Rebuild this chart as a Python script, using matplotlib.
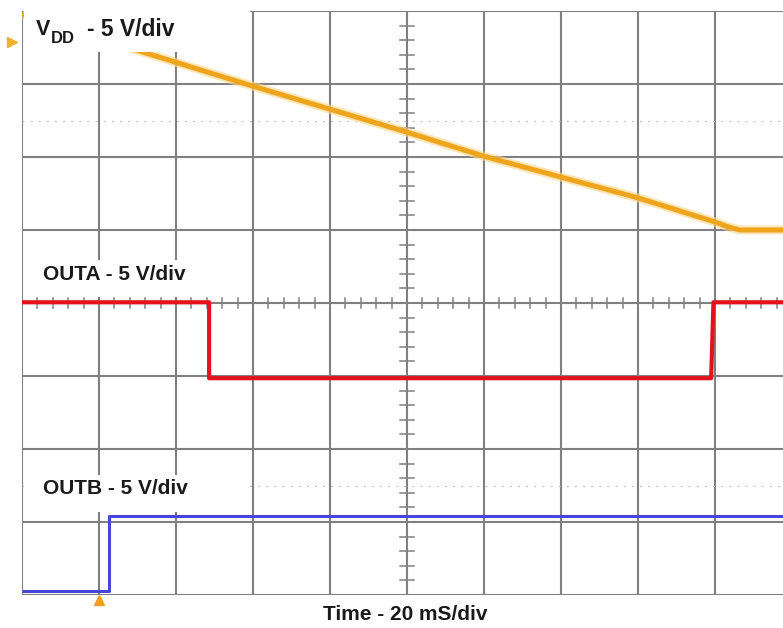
"""Scope capture: VDD ramp-down with OUTA / OUTB response (graticule in divisions)."""
import numpy as np
import matplotlib
matplotlib.use("Agg")
import matplotlib.pyplot as plt

plt.rcParams["font.family"] = ["Liberation Sans", "DejaVu Sans"]

# traces, read in screen divisions (x: 0..10, y: 0..8 from bottom)
vdd_t = [0.0, 3.0, 5.0, 6.0, 8.0, 9.0, 9.15, 9.32, 9.9]
vdd_v = [7.95, 6.97, 6.34, 6.01, 5.44, 5.11, 5.05, 5.0, 5.0]
outa_t = [0.0, 2.43, 2.43, 8.95, 8.98, 9.9]
outa_v = [4.01, 4.01, 2.97, 2.97, 4.01, 4.01]
outb_t = [0.0, 1.13, 1.13, 9.9]
outb_v = [0.05, 0.05, 1.08, 1.08]

labels = ["OUTA - 5 V/div", "OUTB - 5 V/div"]
label_box = [(7.44, 0.56), (4.08, 0.51), (1.14, 0.51)]   # (bottom, height) in div
label_y = [4.39, 1.46]           # text centres (div)
xlabel = "Time - 20 mS/div"

W, H = 783, 628
fig = plt.figure(figsize=(W / 100, H / 100), dpi=100)
x0, y_top, y_bot, dx = 22, 11, 595, 77.0
ax = fig.add_axes([x0 / W, (H - y_bot) / H, (W - x0) / W, (y_bot - y_top) / H])
xmax = (W - x0) / dx
ax.set_xlim(0, xmax); ax.set_ylim(0, 8)
ax.axis("off")

grid_c = "#808080"
for i in range(11):
    ax.axvline(i, color=grid_c, lw=1.5, zorder=1)
for j in range(9):
    ax.axhline(j, color=grid_c, lw=1.5, zorder=1)
# minor ticks on the centre axes
for k in np.arange(0, 10.01, 0.2):
    ax.plot([k, k], [4 - 0.07, 4 + 0.07], color=grid_c, lw=1.1, zorder=1)
for k in np.arange(0, 8.01, 0.2):
    ax.plot([5 - 0.09, 5 + 0.09], [k, k], color=grid_c, lw=1.1, zorder=1)
# faint dotted cursor lines
for yy in (6.5, 1.5):
    ax.axhline(yy, color="#b8c0cc", lw=0.9, ls=(0, (1.5, 5)), zorder=1)

# traces
ax.plot(vdd_t, vdd_v, color="#fbd58a", lw=6.5, alpha=0.6, zorder=3, solid_capstyle="butt")
ax.plot(vdd_t, vdd_v, color="#eea51c", lw=3.6, zorder=4, solid_capstyle="butt")
ax.plot(outa_t, outa_v, color="#e4131b", lw=3.0, zorder=4, solid_capstyle="butt")
ax.plot(outb_t, outb_v, color="#4646dc", lw=2.2, zorder=4, solid_capstyle="butt")

# channel / trigger markers
ax.plot([-0.13], [7.58], marker=">", color="#f0b030", ms=7, clip_on=False, zorder=5)
ax.plot([1.0], [-0.07], marker="^", color="#f0a020", ms=7, clip_on=False, zorder=5)

# white label boxes
box_w = (248 - x0) / dx
for yb, hb in label_box:
    ax.add_patch(plt.Rectangle((0.02, yb), box_w, hb, facecolor="white",
                               edgecolor="none", zorder=6))
txt = dict(fontweight="bold", color="#1a1a1a", va="center", ha="left", zorder=7)
ax.text(0.18, 7.74, "V", fontsize=15.5, **txt)
ax.text(0.375, 7.63, "DD", fontsize=12, **txt)
ax.text(0.84, 7.74, "- 5 V/div", fontsize=16.5, **txt)
for lab, yt in zip(labels, label_y):
    ax.text(0.27, yt, lab, fontsize=15, **txt)

fig.text(405 / W, 1 - 615 / H, xlabel, fontsize=15, fontweight="bold", color="#1a1a1a",
         ha="center", va="center")

fig.savefig("out.png", dpi=100, facecolor="white")
